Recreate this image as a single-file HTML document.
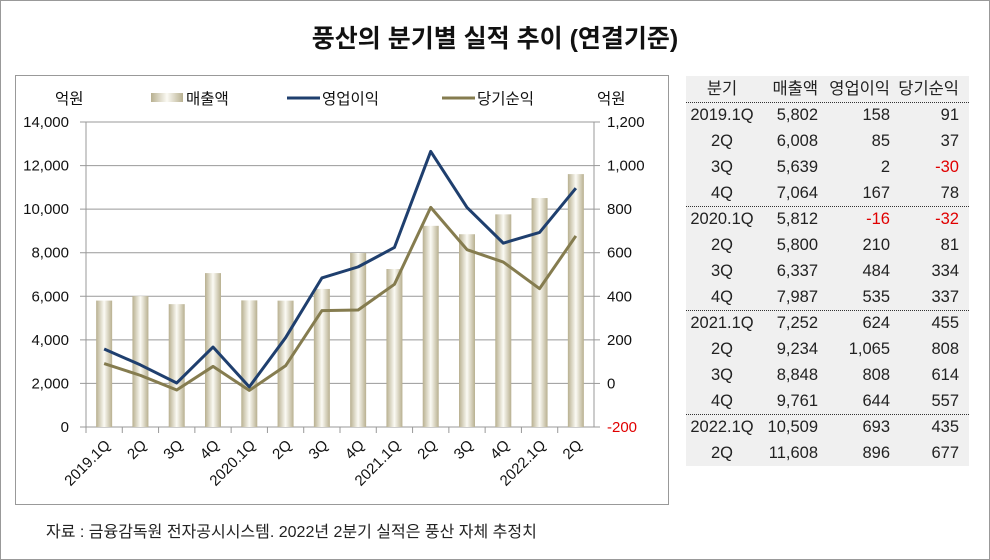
<!DOCTYPE html>
<html><head><meta charset="utf-8"><style>
body{margin:0;width:990px;height:560px;background:#fff;position:relative;overflow:hidden;font-family:"Liberation Sans","Noto Sans CJK KR",sans-serif;}
#frame{position:absolute;left:0;top:0;width:988px;height:558px;border:1px solid #999;}
#title{position:absolute;left:0;width:990px;top:19px;text-align:center;font-size:25px;font-weight:bold;color:#111;}
#chart-box{position:absolute;left:15px;top:75px;width:652px;height:428px;border:1px solid #999;}
#src{position:absolute;left:46px;top:518px;font-size:16px;color:#222;}
#tbl{position:absolute;left:686px;top:76px;width:283px;height:390px;background:#f0f0f0;font-size:16.5px;color:#222;}
.row{position:absolute;left:0;width:283px;height:26px;line-height:26px;}
.row span{position:absolute;}
.c0{left:0;width:72px;text-align:center}
.c1{right:151px;text-align:right}
.c2{right:79px;text-align:right}
.c3{right:10px;text-align:right}
.neg{color:#e00000}
.sep{position:absolute;left:0;width:283px;border-top:1px dotted #333;}
</style></head><body>
<div id="frame"></div>
<div id="title">풍산의 분기별 실적 추이 (연결기준)</div>
<div id="chart-box"></div>
<svg id="chart" width="990" height="560" style="position:absolute;left:0;top:0">
<defs><linearGradient id="bg" x1="0" x2="1" y1="0" y2="0">
<stop offset="0" stop-color="#b8b090"/><stop offset="0.5" stop-color="#fbfaf4"/><stop offset="1" stop-color="#b8b090"/></linearGradient></defs>
<g id="g"></g></svg>
<div id="src">자료 : 금융감독원 전자공시시스템. 2022년 2분기 실적은 풍산 자체 추정치</div>
<div id="tbl"></div>
<script>
const categories=["2019.1Q","2Q","3Q","4Q","2020.1Q","2Q","3Q","4Q","2021.1Q","2Q","3Q","4Q","2022.1Q","2Q"];
const sales=[5802,6008,5639,7064,5812,5800,6337,7987,7252,9234,8848,9761,10509,11608];
const opProfit=[158,85,2,167,-16,210,484,535,624,1065,808,644,693,896];
const netProfit=[91,37,-30,78,-32,81,334,337,455,808,614,557,435,677];
const leftTicks=[0,2000,4000,6000,8000,10000,12000,14000];
const rightTicks=[-200,0,200,400,600,800,1000,1200];
const NS="http://www.w3.org/2000/svg";
const g=document.getElementById('g');
const X0=86,X1=594,Y0=427,Y1=122;
const yL=v=>Y0-(v-0)/(14000-0)*(Y0-Y1);
const yR=v=>Y0-(v+200)/1400*(Y0-Y1);
const cw=(X1-X0)/categories.length;
const xC=i=>X0+cw*(i+0.5);
function el(t,a,txt){const e=document.createElementNS(NS,t);for(const k in a)e.setAttribute(k,a[k]);if(txt!=null)e.textContent=txt;g.appendChild(e);return e;}
const fmt=v=>v.toLocaleString('en-US');
leftTicks.forEach(v=>{
 const gl=el('line',{x1:X0-6,x2:X1,y1:yL(v),y2:yL(v),stroke:'#999','stroke-width':1});
 
 const t=el('text',{x:X0-17,y:yL(v)+5,'text-anchor':'end','font-size':15,fill:'#111'},fmt(v));
 
});
rightTicks.forEach(v=>{
 const tk=el('line',{x1:X1,x2:X1+6,y1:yR(v),y2:yR(v),stroke:'#999'});
 
 const t=el('text',{x:X1+13,y:yR(v)+5,'font-size':15,fill:v<0?'#e00000':'#111'},fmt(v));
 
});
const la=el('line',{x1:X0,x2:X0,y1:Y1,y2:Y0,stroke:'#999'});
const ra=el('line',{x1:X1,x2:X1,y1:Y1,y2:Y0,stroke:'#999'});
sales.forEach((v,i)=>{
 const b=el('rect',{x:xC(i)-8,y:yL(v),width:16,height:Y0-yL(v),fill:'url(#bg)'});
 
});
categories.forEach((c,i)=>{
 const tk=el('line',{x1:X0+cw*i,x2:X0+cw*i,y1:Y0,y2:Y0+6,stroke:'#999'});
 
 const x=xC(i)+7,y=Y0+19;
 const t=el('text',{x:x,y:y,'text-anchor':'end','font-size':15,fill:'#111',transform:`rotate(-45 ${x} ${y})`},c);
 
});
const p1=el('polyline',{points:opProfit.map((v,i)=>xC(i)+','+yR(v)).join(' '),fill:'none',stroke:'#1f3f6e','stroke-width':3,'stroke-linejoin':'round'});

const p2=el('polyline',{points:netProfit.map((v,i)=>xC(i)+','+yR(v)).join(' '),fill:'none',stroke:'#857c4f','stroke-width':3,'stroke-linejoin':'round'});

let t=el('text',{x:55,y:104,'font-size':15.5,fill:'#111'},'억원');
t=el('text',{x:597,y:104,'font-size':15.5,fill:'#111'},'억원');
let r=el('rect',{x:151,y:93,width:32,height:9,fill:'url(#bg)'});
t=el('text',{x:186,y:104,'font-size':15.5,fill:'#111'},'매출액');
r=el('line',{x1:287,x2:320,y1:98,y2:98,stroke:'#1f3f6e','stroke-width':3});
t=el('text',{x:322,y:104,'font-size':15.5,fill:'#111'},'영업이익');
r=el('line',{x1:442,x2:475,y1:98,y2:98,stroke:'#857c4f','stroke-width':3});
t=el('text',{x:477,y:104,'font-size':15.5,fill:'#111'},'당기순익');
const tbl=document.getElementById('tbl');
function row(top,cells,name){
 const d=document.createElement('div');d.className='row';d.style.top=top+'px';
 
 cells.forEach((c,k)=>{const s=document.createElement('span');s.className='c'+k+(typeof c==='number'&&c<0?' neg':'');s.textContent=typeof c==='number'?fmt(c):c;d.appendChild(s);});
 tbl.appendChild(d);
}
row(0,['분기','매출액','영업이익','당기순익'],'table-header');
categories.forEach((c,i)=>row(26+26*i,[c,sales[i],opProfit[i],netProfit[i]],'table-row'));
[26,130,234,338].forEach(y=>{const s=document.createElement('div');s.className='sep';s.style.top=y+'px';tbl.appendChild(s);});
</script>
</body></html>
